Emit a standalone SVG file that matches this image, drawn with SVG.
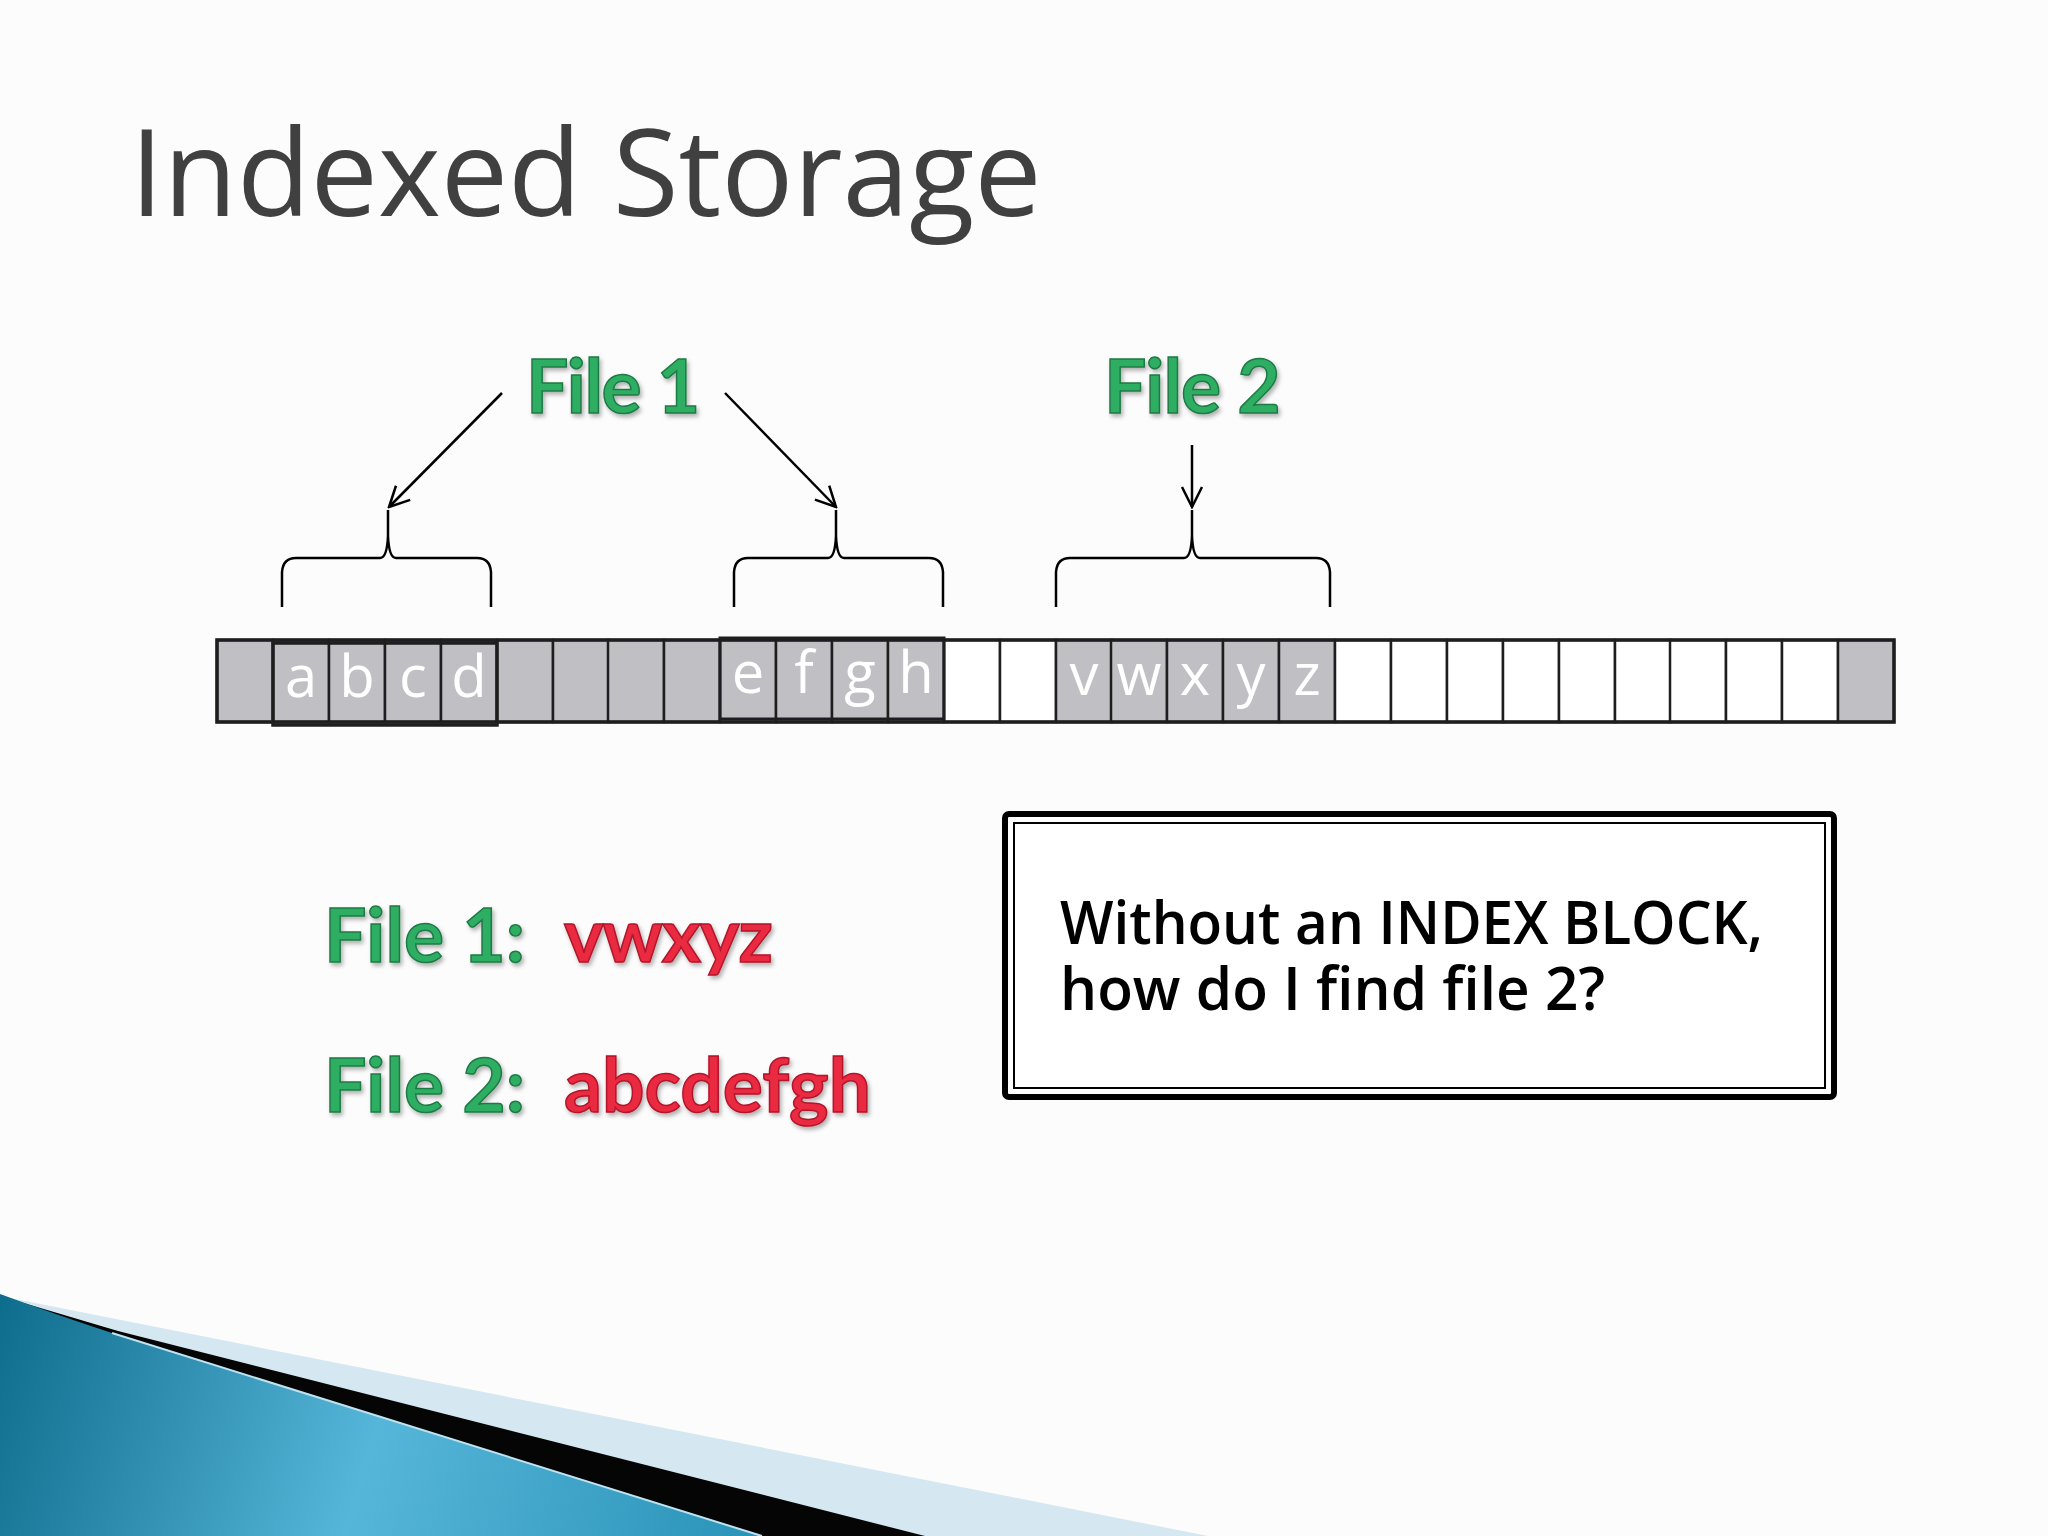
<svg xmlns="http://www.w3.org/2000/svg" width="2048" height="1536" viewBox="0 0 2048 1536">
<defs>
<style>
.title{font-family:"Open Sans","DejaVu Sans",sans-serif;font-size:120px;fill:#404040}
.cell{stroke:#1e1e1e;stroke-width:2.5}
.g{fill:#c0bfc3}
.w{fill:#ffffff}
.lt{font-family:"Open Sans","DejaVu Sans",sans-serif;font-size:58px;fill:#ffffff;text-anchor:middle}
.grn{font-family:Lato,"Open Sans",sans-serif;font-weight:bold;font-size:75px;fill:#2fae62;stroke:#1f7a45;stroke-width:1.5;filter:url(#sh)}
.red{font-family:Lato,"Open Sans",sans-serif;font-weight:bold;font-size:75px;fill:#ea2a40;stroke:#b3152a;stroke-width:1.5;filter:url(#sh)}
.q{font-family:"Open Sans","DejaVu Sans",sans-serif;font-size:60px;font-weight:600;fill:#000}
.ln{fill:none;stroke:#000;stroke-width:2.5}
</style>
<marker id="ah" viewBox="0 0 24 24" refX="22" refY="12" markerWidth="24" markerHeight="24" markerUnits="userSpaceOnUse" orient="auto">
<path d="M2,2 L22,12 L2,22" fill="none" stroke="#000" stroke-width="2.5"/>
</marker>
<filter id="sh" x="-10%" y="-10%" width="130%" height="140%">
<feDropShadow dx="2" dy="3" stdDeviation="2" flood-color="#000" flood-opacity="0.3"/>
</filter>
<linearGradient id="blue" x1="0" y1="1300" x2="760" y2="1536" gradientUnits="userSpaceOnUse">
<stop offset="0" stop-color="#0e6c8c"/>
<stop offset="0.5" stop-color="#56b6d9"/>
<stop offset="1" stop-color="#2a93b8"/>
</linearGradient>
</defs>
<rect width="2048" height="1536" fill="#fcfcfc"/>

<g id="decoration">
<polygon points="0,1296 1208,1536 0,1536" fill="#d5e8f1"/>
<polygon points="0,1296 118,1331 925,1536 0,1536" fill="#050505"/>
<path d="M0,1294 Q60,1316 112,1333 L762,1536 L0,1536 Z" fill="url(#blue)"/>
<path d="M112,1333 L762,1536" stroke="#bfe3f0" stroke-width="2" fill="none"/>
</g>

<g id="title"><text class="title" x="130" y="216">Indexed Storage</text></g>

<g id="label-file1"><text class="grn" x="526" y="413" font-size="72" letter-spacing="-1.5">File 1</text></g>
<g id="label-file2"><text class="grn" x="1104" y="413" letter-spacing="-1">File 2</text></g>

<g id="strip">
<rect class="cell g" x="217" y="640" width="56" height="82"/>
<rect class="cell g" x="273" y="640" width="56" height="82"/>
<rect class="cell g" x="329" y="640" width="56" height="82"/>
<rect class="cell g" x="385" y="640" width="56" height="82"/>
<rect class="cell g" x="441" y="640" width="56" height="82"/>
<rect class="cell g" x="497" y="640" width="56" height="82"/>
<rect class="cell g" x="553" y="640" width="56" height="82"/>
<rect class="cell g" x="608" y="640" width="56" height="82"/>
<rect class="cell g" x="664" y="640" width="56" height="82"/>
<rect class="cell g" x="720" y="640" width="56" height="82"/>
<rect class="cell g" x="776" y="640" width="56" height="82"/>
<rect class="cell g" x="832" y="640" width="56" height="82"/>
<rect class="cell g" x="888" y="640" width="56" height="82"/>
<rect class="cell w" x="944" y="640" width="56" height="82"/>
<rect class="cell w" x="1000" y="640" width="56" height="82"/>
<rect class="cell g" x="1056" y="640" width="56" height="82"/>
<rect class="cell g" x="1111" y="640" width="56" height="82"/>
<rect class="cell g" x="1167" y="640" width="56" height="82"/>
<rect class="cell g" x="1223" y="640" width="56" height="82"/>
<rect class="cell g" x="1279" y="640" width="56" height="82"/>
<rect class="cell w" x="1335" y="640" width="56" height="82"/>
<rect class="cell w" x="1391" y="640" width="56" height="82"/>
<rect class="cell w" x="1447" y="640" width="56" height="82"/>
<rect class="cell w" x="1503" y="640" width="56" height="82"/>
<rect class="cell w" x="1559" y="640" width="56" height="82"/>
<rect class="cell w" x="1615" y="640" width="56" height="82"/>
<rect class="cell w" x="1670" y="640" width="56" height="82"/>
<rect class="cell w" x="1726" y="640" width="56" height="82"/>
<rect class="cell w" x="1782" y="640" width="56" height="82"/>
<rect class="cell g" x="1838" y="640" width="56" height="82"/>
<rect x="217" y="640" width="1677" height="82" fill="none" stroke="#1e1e1e" stroke-width="3.5"/>
<rect x="273" y="643" width="224" height="82" fill="none" stroke="#1e1e1e" stroke-width="3.5"/>
<rect x="720" y="638" width="224" height="81" fill="none" stroke="#1e1e1e" stroke-width="3"/>
<text class="lt" x="301" y="697">a</text>
<text class="lt" x="357" y="697">b</text>
<text class="lt" x="413" y="697">c</text>
<text class="lt" x="469" y="697">d</text>
<text class="lt" x="748" y="693">e</text>
<text class="lt" x="804" y="693">f</text>
<text class="lt" x="860" y="693">g</text>
<text class="lt" x="916" y="693">h</text>
<text class="lt" x="1084" y="695">v</text>
<text class="lt" x="1139" y="695">w</text>
<text class="lt" x="1195" y="695">x</text>
<text class="lt" x="1251" y="695">y</text>
<text class="lt" x="1307" y="695">z</text>
</g>

<g id="braces">
<path class="ln" d="M282,607 L282,572 Q283,558 296,558 L380,558 Q387,558 388,536 L388,510 M388,536 Q389,558 396,558 L477,558 Q490,558 491,572 L491,607"/>
<path class="ln" d="M734,607 L734,572 Q735,558 748,558 L828,558 Q835,558 836,536 L836,510 M836,536 Q837,558 844,558 L929,558 Q942,558 943,572 L943,607"/>
<path class="ln" d="M1056,607 L1056,572 Q1057,558 1070,558 L1184,558 Q1191,558 1192,536 L1192,510 M1192,536 Q1193,558 1200,558 L1316,558 Q1329,558 1330,572 L1330,607"/>
</g>

<g id="connectors">
<line class="ln" x1="502" y1="393" x2="389" y2="507" marker-end="url(#ah)"/>
<line class="ln" x1="725" y1="393" x2="836" y2="507" marker-end="url(#ah)"/>
<line class="ln" x1="1192" y1="445" x2="1192" y2="507" marker-end="url(#ah)"/>
</g>

<g id="mapping">
<text class="grn" x="324" y="962">File 1:</text>
<text class="red" x="564" y="962" letter-spacing="-1">vwxyz</text>
<text class="grn" x="324" y="1112">File 2:</text>
<text class="red" x="564" y="1112">abcdefgh</text>
</g>

<g id="question">
<rect x="1005" y="814" width="829" height="283" rx="4" fill="#fff" stroke="#000" stroke-width="6"/>
<rect x="1014" y="823" width="811" height="265" fill="none" stroke="#000" stroke-width="2"/>
<text class="q"><tspan x="1060" y="944" textLength="703" lengthAdjust="spacingAndGlyphs">Without an INDEX BLOCK,</tspan><tspan x="1060" y="1010" textLength="545" lengthAdjust="spacingAndGlyphs">how do I find file 2?</tspan></text>
</g>
</svg>
